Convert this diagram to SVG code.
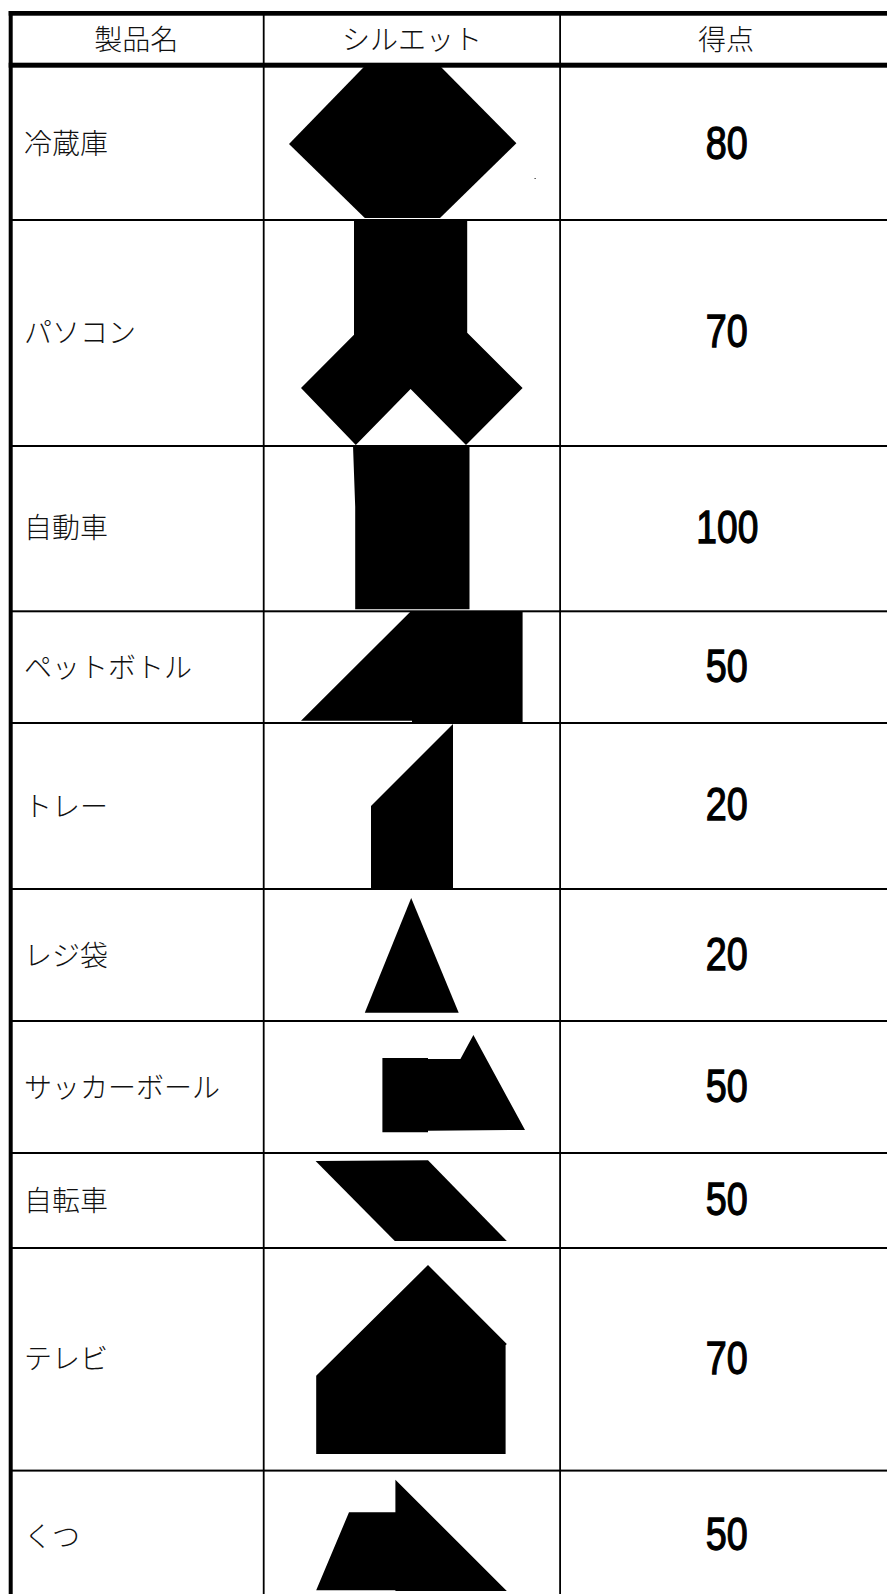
<svg xmlns="http://www.w3.org/2000/svg" width="887" height="1594" viewBox="0 0 887 1594">
<style>
.bg{fill:#fff}
.g{fill:#000}
.s{fill:#000}
.t{font-family:"Liberation Serif","Noto Sans CJK JP",sans-serif;font-size:28px;font-weight:300;fill:#111}
.h{text-anchor:middle}
.n{font-family:"Liberation Sans",Arial,sans-serif;font-size:46px;fill:#000;stroke:#000;stroke-width:1.3}
</style>
<rect class="bg" width="887" height="1594"/>
<g id="grid">
<rect class="g" x="8.7" y="11" width="878.3" height="4.7"/>
<rect class="g" x="8.7" y="62.7" width="878.3" height="5"/>
<rect class="g" x="8.7" y="11" width="4" height="1583"/>
<rect class="g" x="262.8" y="11" width="1.8" height="1583"/>
<rect class="g" x="559.2" y="11" width="1.8" height="1583"/>
<rect class="g" x="9" y="219" width="878" height="2"/>
<rect class="g" x="9" y="445" width="878" height="2"/>
<rect class="g" x="9" y="610.3" width="878" height="2"/>
<rect class="g" x="9" y="722" width="878" height="2"/>
<rect class="g" x="9" y="888" width="878" height="2"/>
<rect class="g" x="9" y="1020" width="878" height="2"/>
<rect class="g" x="9" y="1152" width="878" height="2"/>
<rect class="g" x="9" y="1247" width="878" height="2"/>
<rect class="g" x="9" y="1469.6" width="878" height="2"/>
</g>
<g id="header">
<text class="t h" x="136.3" y="49.5">製品名</text>
<text class="t h" x="412" y="49.5">シルエット</text>
<text class="t h" x="726" y="49.5">得点</text>
</g>
<g id="row-fridge">
<text class="t" x="24" y="153.5">冷蔵庫</text>
<polygon class="s" points="364.8,66 440,66 516.4,143.3 440,218 364.8,218 289,144"/>
<rect class="s" x="534.6" y="178" width="1" height="1"/>
<text class="n" x="726.8" y="159.3" text-anchor="middle" textLength="42" lengthAdjust="spacingAndGlyphs">80</text>
</g>
<g id="row-pc">
<text class="t" x="24" y="342.5">パソコン</text>
<polygon class="s" points="354,220.5 467.2,220.5 467.2,332.7 522.6,388 466,445 410.6,389 355.8,445 301,388 354,334.7"/>
<text class="n" x="726.8" y="347.3" text-anchor="middle" textLength="42" lengthAdjust="spacingAndGlyphs">70</text>
</g>
<g id="row-car">
<text class="t" x="24" y="537.5">自動車</text>
<polygon class="s" points="353,445.5 469.5,445.5 469.5,609.3 355.2,609.3 355.2,506.7"/>
<text class="n" x="727.3" y="543.3" text-anchor="middle" textLength="62" lengthAdjust="spacingAndGlyphs">100</text>
</g>
<g id="row-bottle">
<text class="t" x="24" y="677.5">ペットボトル</text>
<polygon class="s" points="410.6,611.5 522.6,611.5 522.6,722 412,722 412,720.7 301,720.7"/>
<text class="n" x="726.8" y="682" text-anchor="middle" textLength="42" lengthAdjust="spacingAndGlyphs">50</text>
</g>
<g id="row-tray">
<text class="t" x="24" y="816.5">トレー</text>
<polygon class="s" points="453,724 453,888.3 371,888.3 371,806"/>
<text class="n" x="726.8" y="820.3" text-anchor="middle" textLength="42" lengthAdjust="spacingAndGlyphs">20</text>
</g>
<g id="row-bag">
<text class="t" x="24" y="965.5">レジ袋</text>
<polygon class="s" points="411.2,898 458.7,1012.7 364.8,1012.7"/>
<text class="n" x="726.8" y="969.8" text-anchor="middle" textLength="42" lengthAdjust="spacingAndGlyphs">20</text>
</g>
<g id="row-ball">
<text class="t" x="24" y="1097.5">サッカーボール</text>
<polygon class="s" points="382.4,1058 428,1058 428,1059 460.4,1059 473.4,1035 525,1130 428,1130.7 428,1132.3 382.4,1132.3"/>
<text class="n" x="726.8" y="1101.8" text-anchor="middle" textLength="42" lengthAdjust="spacingAndGlyphs">50</text>
</g>
<g id="row-bike">
<text class="t" x="24" y="1210.5">自転車</text>
<polygon class="s" points="315.6,1161 428,1160.3 506.8,1241 394.8,1241"/>
<text class="n" x="726.8" y="1215.3" text-anchor="middle" textLength="42" lengthAdjust="spacingAndGlyphs">50</text>
</g>
<g id="row-tv">
<text class="t" x="24" y="1368.5">テレビ</text>
<polygon class="s" points="428,1265 506.8,1344 505.6,1345.3 505.6,1454 316.2,1454 316.2,1375.7"/>
<text class="n" x="726.8" y="1374.3" text-anchor="middle" textLength="42" lengthAdjust="spacingAndGlyphs">70</text>
</g>
<g id="row-shoes">
<text class="t" x="24" y="1546.5">くつ</text>
<polygon class="s" points="395.4,1479.7 506.8,1591 395.4,1591 395.4,1590.3 316.2,1590.3 349,1512.3 395.4,1512.3"/>
<text class="n" x="726.8" y="1550.3" text-anchor="middle" textLength="42" lengthAdjust="spacingAndGlyphs">50</text>
</g>
</svg>
